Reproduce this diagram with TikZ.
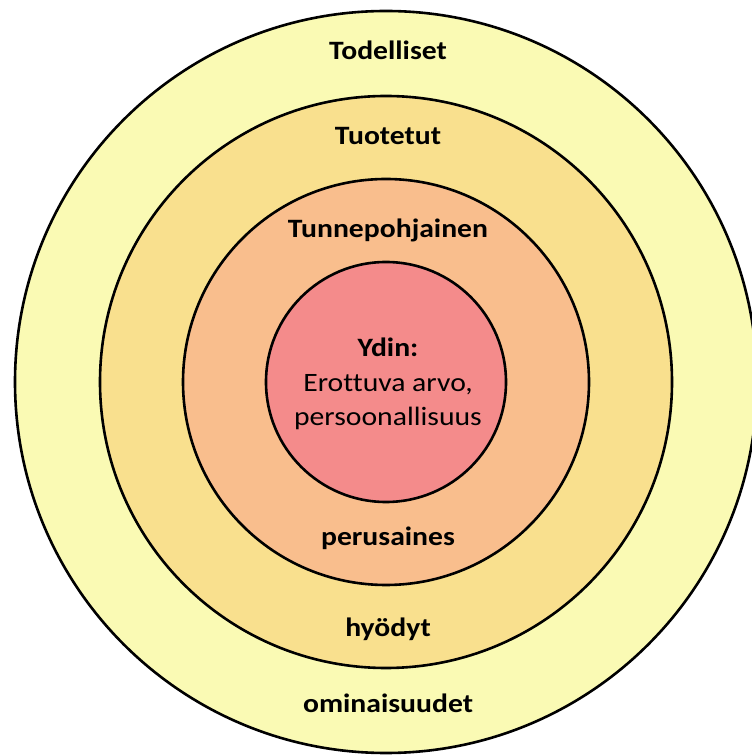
\documentclass[tikz,border=0pt]{standalone}
\usepackage{fontspec}
\setmainfont{Carlito}[FakeStretch=1.12, Ligatures=NoCommon]
\definecolor{ringA}{HTML}{FAFAB4}
\definecolor{ringB}{HTML}{F9E08E}
\definecolor{ringC}{HTML}{F9BE8D}
\definecolor{ringD}{HTML}{F48B8B}
\begin{document}
\begin{tikzpicture}[x=1pt,y=1pt,
  ring/.style={circle, draw=black, line width=2.6pt, inner sep=0pt, minimum size=#1},
  lbl/.style={anchor=base, font=\fontsize{26.5}{34.6}\selectfont\bfseries, inner sep=0pt},
  core/.style={anchor=base, align=center, font=\fontsize{26.5}{34.6}\selectfont, inner sep=0pt}]
  \useasboundingbox (0,0) rectangle (752,755);
  \coordinate (c) at (386,373);
  % concentric layers, outermost first
  \node[ring=742pt, fill=ringA] (outer) at (c) {};
  \node[ring=572pt, fill=ringB] (produced) at (c) {};
  \node[ring=406pt, fill=ringC] (emotional) at (c) {};
  \node[ring=240pt, fill=ringD] (kernel) at (c) {};
  % layer labels
  \node[lbl] (t1) at (388,695.7) {Todelliset};
  \node[lbl] (t2) at (388,610.7) {Tuotetut};
  \node[lbl] (t3) at (388,517) {Tunnepohjainen};
  % the base anchor of this block sits on its last line
  \node[core] (t4) at (388,329) {\textbf{Ydin:}\\Erottuva arvo,\\persoonallisuus};
  \node[lbl] (b3) at (388,209) {perusaines};
  \node[lbl] (b2) at (388,118.3) {hyödyt};
  \node[lbl] (b1) at (388,42.3) {ominaisuudet};
\end{tikzpicture}
\end{document}
